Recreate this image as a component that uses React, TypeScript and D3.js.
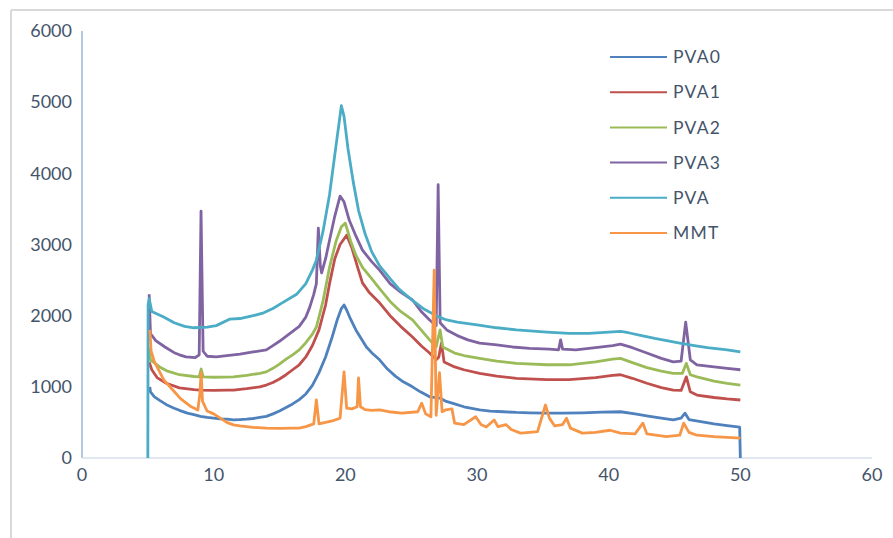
import React from "react";
import * as d3 from "d3";

const seriesNames = ["PVA0", "PVA1", "PVA2", "PVA3", "PVA", "MMT"];
const seriesColors = ["#4F81BD", "#C0504D", "#9BBB59", "#8064A2", "#4BACC6", "#F79646"];
const xTicks = [0, 10, 20, 30, 40, 50, 60];
const yTicks = [0, 1000, 2000, 3000, 4000, 5000, 6000];

const pva0: [number, number][] = [[5.15,1000],[5.2,930],[5.5,860],[5.9,810],[6.5,740],[7.0,700],[7.4,670],[8.0,630],[8.5,610],[9.0,585],[9.5,570],[10,560],[10.5,550],[11,545],[11.5,535],[12,540],[12.5,545],[13,555],[13.5,570],[14,585],[14.5,620],[15,660],[15.5,710],[16,760],[16.5,820],[17,900],[17.5,1020],[18,1200],[18.5,1420],[19,1700],[19.4,1950],[19.7,2100],[19.9,2150],[20.1,2080],[20.4,1950],[20.8,1800],[21.2,1680],[21.6,1560],[22,1480],[22.6,1380],[23.2,1250],[23.8,1150],[24.4,1070],[25.1,1000],[25.7,930],[26.4,860],[27.2,840],[27.6,800],[28.3,760],[29,720],[30.2,675],[31,660],[32,650],[33,640],[34,635],[35.3,630],[36.5,630],[38,635],[39.5,645],[40.9,650],[42,620],[43,590],[44,560],[44.9,535],[45.5,560],[45.8,630],[46.1,540],[47,510],[48,480],[49,455],[49.95,435],[50,0]];
const pva1: [number, number][] = [[5.1,1350],[5.3,1240],[5.7,1130],[6.4,1050],[7.4,985],[8.5,960],[9,955],[10,950],[11,955],[11.5,955],[12.5,975],[13.5,1000],[14,1025],[14.5,1060],[15,1110],[15.5,1170],[16,1240],[16.5,1310],[17,1420],[17.5,1580],[18,1800],[18.5,2150],[18.8,2450],[19.2,2800],[19.6,3000],[20.1,3130],[20.5,2950],[20.9,2700],[21.3,2460],[21.8,2330],[22.6,2180],[23.4,2000],[24.2,1850],[25.1,1700],[25.8,1570],[26.4,1475],[26.9,1380],[27.1,1420],[27.3,1615],[27.5,1350],[28.3,1280],[29,1240],[30.2,1190],[31.5,1150],[33,1120],[35.3,1100],[37,1100],[39,1130],[40.3,1160],[40.9,1170],[41.8,1120],[42.9,1050],[44,990],[44.9,955],[45.5,950],[45.9,1140],[46.2,930],[46.7,885],[48,850],[49,830],[50,815]];
const pva2: [number, number][] = [[5.1,1550],[5.2,1380],[5.9,1280],[6.5,1220],[7.4,1170],[8.5,1145],[8.9,1140],[9.05,1250],[9.2,1140],[10,1135],[11.5,1140],[12.5,1160],[13.5,1190],[14,1210],[14.5,1260],[15,1320],[15.5,1390],[16,1450],[16.5,1520],[17,1620],[17.5,1740],[17.8,1840],[18.3,2200],[18.8,2680],[19.3,3050],[19.7,3250],[20.0,3300],[20.4,3050],[20.8,2850],[21.3,2680],[22,2520],[22.6,2380],[23.4,2200],[24.2,2060],[25.1,1940],[25.8,1790],[26.4,1660],[26.9,1560],[27.2,1800],[27.4,1560],[28.3,1475],[29,1440],[30.2,1400],[31.5,1360],[33,1330],[35.3,1310],[37,1310],[39,1350],[40.3,1390],[40.9,1400],[41.8,1340],[42.9,1270],[44,1220],[44.9,1190],[45.6,1190],[45.9,1330],[46.2,1170],[46.7,1140],[48,1080],[49,1050],[50,1025]];
const pva3: [number, number][] = [[5.1,2300],[5.2,1750],[5.6,1650],[6.3,1560],[7.0,1480],[7.4,1450],[7.9,1420],[8.6,1410],[8.9,1450],[9.04,3470],[9.2,1500],[9.5,1430],[10.2,1420],[11,1440],[12,1460],[13,1490],[14,1520],[14.5,1580],[15,1640],[15.5,1710],[16,1780],[16.5,1850],[17,1980],[17.3,2120],[17.6,2300],[17.8,2450],[17.95,3230],[18.1,2700],[18.2,2600],[18.5,2800],[18.8,3060],[19.2,3400],[19.6,3680],[19.9,3600],[20.3,3340],[20.8,3120],[21.3,2920],[22,2760],[22.6,2640],[23.4,2450],[24.2,2330],[25.1,2220],[25.8,2050],[26.4,1940],[26.9,1860],[27.05,3840],[27.2,1900],[27.7,1800],[28.5,1720],[29.3,1660],[30.2,1615],[31.5,1590],[32.7,1560],[34,1540],[35.5,1530],[36.2,1520],[36.35,1660],[36.5,1530],[37.5,1520],[39,1550],[40.3,1580],[40.9,1600],[41.8,1550],[42.9,1475],[44,1400],[44.9,1350],[45.5,1360],[45.85,1910],[46.2,1380],[46.7,1310],[48,1280],[49,1260],[50,1240]];
const pva: [number, number][] = [[5.0,0],[5.02,2150],[5.1,2240],[5.3,2060],[6.2,1980],[7.0,1900],[7.8,1850],[8.5,1830],[9.5,1840],[10.2,1860],[11.2,1950],[12,1960],[13,2000],[13.8,2040],[14.5,2100],[15.3,2190],[16.3,2300],[17,2450],[17.5,2640],[17.8,2780],[18.3,3180],[18.8,3700],[19.3,4400],[19.7,4950],[19.9,4800],[20.2,4350],[20.6,3880],[21,3480],[21.5,3150],[22,2900],[22.6,2700],[23.4,2520],[24.1,2370],[25,2230],[26,2090],[27,1990],[27.7,1940],[28.5,1910],[30,1870],[31.5,1830],[33,1800],[35.3,1770],[37,1750],[38.5,1750],[40,1770],[40.9,1780],[41.5,1760],[42.5,1720],[43.5,1680],[45.4,1615],[46.5,1580],[47.5,1550],[49,1520],[50,1490]];
const mmt: [number, number][] = [[5.15,1800],[5.25,1500],[5.5,1350],[5.7,1280],[6.2,1100],[6.9,955],[7.5,830],[8.3,720],[8.8,675],[8.95,900],[9.05,1200],[9.15,800],[9.5,660],[10,620],[10.5,560],[11,500],[11.5,465],[12,450],[13,430],[14,420],[15,415],[16,420],[16.5,420],[17,440],[17.6,480],[17.8,815],[18.0,480],[18.5,500],[19,520],[19.6,560],[19.9,1210],[20.1,700],[20.5,690],[20.9,720],[21.0,1125],[21.15,720],[21.5,680],[22,670],[22.6,675],[23.3,650],[24.3,630],[25.5,650],[25.8,770],[26.1,620],[26.5,580],[26.75,2640],[26.9,600],[27.15,1200],[27.35,650],[27.6,675],[28.1,690],[28.3,490],[29,470],[29.9,580],[30.3,470],[30.7,435],[31.3,535],[31.6,440],[32.2,470],[32.6,400],[33.3,350],[34,360],[34.6,370],[35.2,745],[35.5,560],[35.9,450],[36.5,470],[36.8,560],[37.1,420],[38,350],[39,360],[40.1,390],[40.9,350],[42,340],[42.6,490],[42.9,340],[44.4,300],[45.4,320],[45.7,490],[46.1,360],[46.7,320],[48,300],[49,290],[50,280]];

const seriesData = [pva0, pva1, pva2, pva3, pva, mmt];

const W = 893, H = 538;
const font = "Lato, 'Open Sans', sans-serif";
const textColor = "#44546A";

export default function App() {
  const x = d3.scaleLinear().domain([0, 60]).range([82, 872]);
  const y = d3.scaleLinear().domain([0, 6000]).range([458, 31]);
  const line = d3.line<[number, number]>().x(d => x(d[0])).y(d => y(d[1]));
  return (
    <div style={{ position: "absolute", left: 0, top: 0 }}>
      <svg width={W} height={H} style={{ display: "block", background: "#fff" }}>
        <line x1={11} y1={10} x2={W} y2={10} stroke="#D9D9D9" strokeWidth={2} />
        <line x1={11} y1={10} x2={11} y2={H} stroke="#D9D9D9" strokeWidth={2} />
        <line x1={x(0)} y1={y(6000)} x2={x(0)} y2={y(0)} stroke="#9DB7D8" strokeWidth={1.5} />
        <line x1={x(0)} y1={y(0)} x2={x(60)} y2={y(0)} stroke="#D6DFEB" strokeWidth={1.5} />
        {yTicks.map(t => (
          <text key={t} x={72} y={y(t)} dy="0.35em" textAnchor="end" fontFamily={font} fontSize={18} fill={textColor}>{t}</text>
        ))}
        {xTicks.map(t => (
          <text key={t} x={x(t)} y={475} dy="0.35em" textAnchor="middle" fontFamily={font} fontSize={18} fill={textColor}>{t}</text>
        ))}
        {seriesData.map((d, i) => (
          <path key={seriesNames[i]} d={line(d) || ""} fill="none" stroke={seriesColors[i]} strokeWidth={2.8} strokeLinejoin="round" />
        ))}
        {seriesNames.map((n, i) => {
          const ly = 57 + i * 35.2;
          return (
            <g key={n}>
              <line x1={610} x2={667} y1={ly} y2={ly} stroke={seriesColors[i]} strokeWidth={2} />
              <text x={673} y={ly} dy="0.35em" fontFamily={font} fontSize={17.5} fill={textColor} letterSpacing={1.2}>{n}</text>
            </g>
          );
        })}
      </svg>
    </div>
  );
}
